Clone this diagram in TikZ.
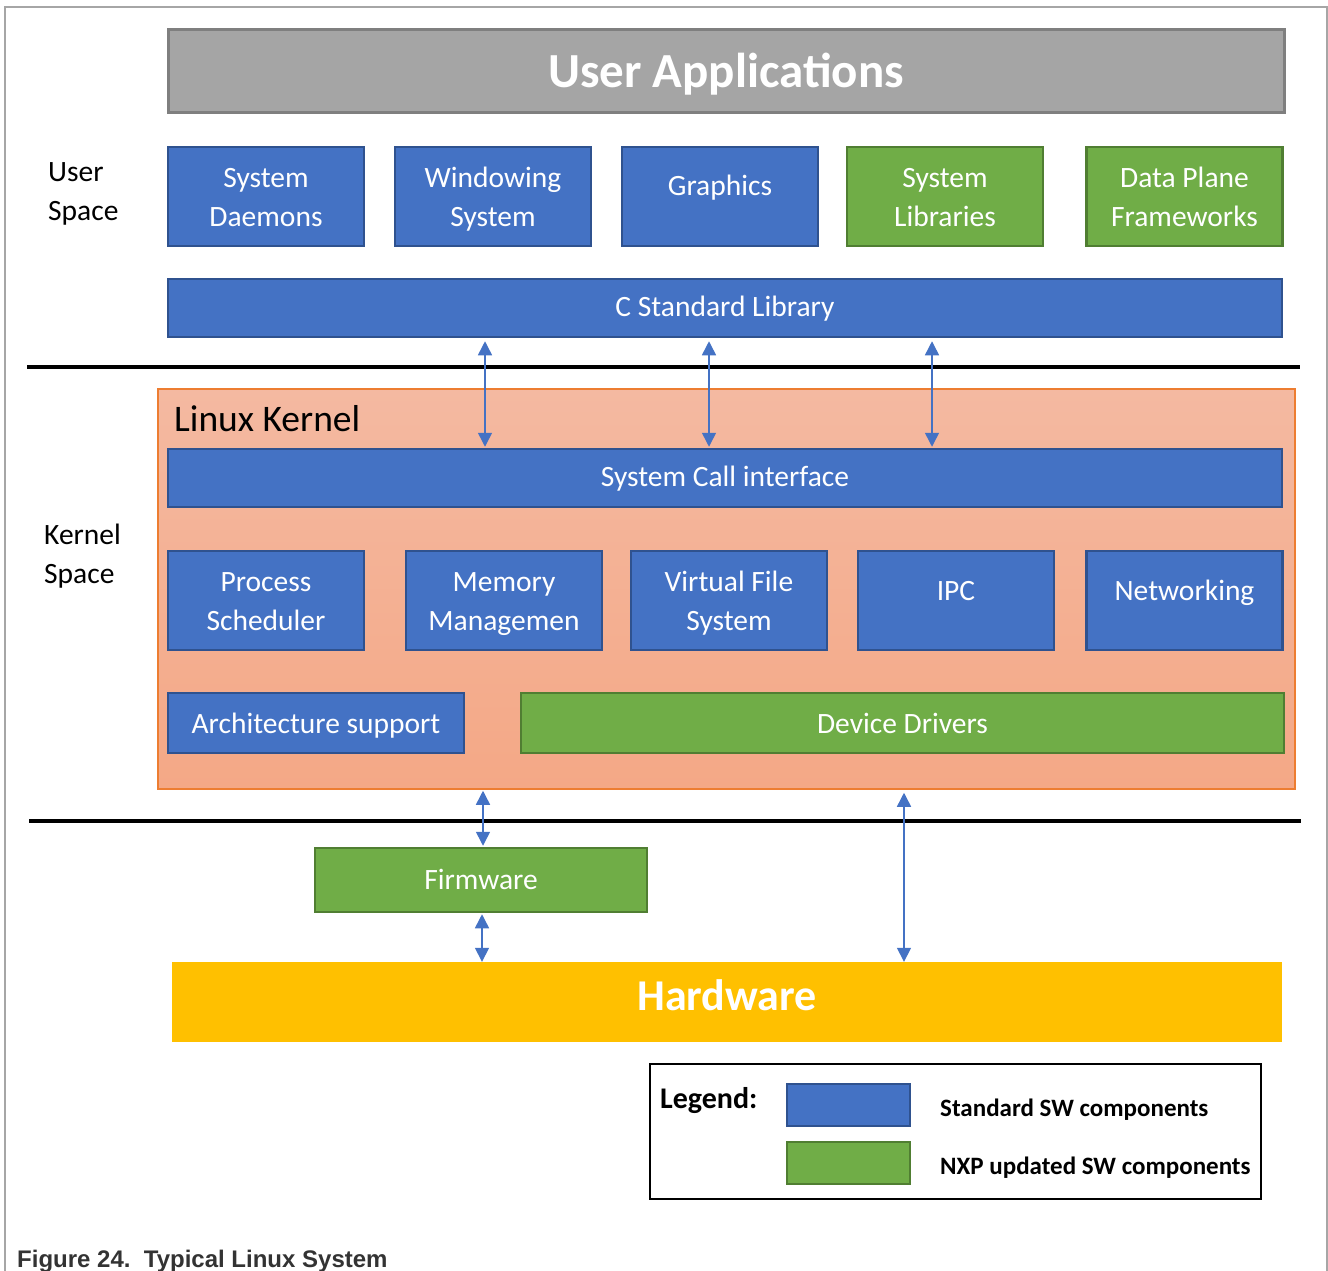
\documentclass[tikz,border=0pt]{standalone}
\usepackage{fontspec}
\setmainfont{Carlito}
\newfontfamily\captionfont{Liberation Sans}
\usetikzlibrary{arrows.meta}
\definecolor{stdblue}{HTML}{4472C4}
\definecolor{stdblueline}{HTML}{2F528F}
\definecolor{nxpgreen}{HTML}{70AD47}
\definecolor{nxpgreenline}{HTML}{507E32}
\definecolor{appgray}{HTML}{A5A5A5}
\definecolor{appgrayline}{HTML}{7F7F7F}
\definecolor{hwyellow}{HTML}{FFC000}
\definecolor{kerneltop}{HTML}{F4B9A1}
\definecolor{kernelbot}{HTML}{F4A886}
\definecolor{kernelline}{HTML}{ED7D31}
\definecolor{framegray}{HTML}{A6A6A6}
% struts for the two-line boxes
\newcommand{\upstrut}{\rule{0pt}{28.4pt}}
\newcommand{\downstrut}{\rule[-7pt]{0pt}{7pt}}
\tikzset{textpos/.style 2 args={text height=#1, text depth=#2}}
\tikzstyle{stdsw} = [rectangle, draw=stdblueline, line width=2.5pt, fill=stdblue, text=white, align=center, inner sep=0pt, font=\fontsize{29.5}{39}\selectfont]
\tikzstyle{nxpsw} = [stdsw, draw=nxpgreenline, fill=nxpgreen]
\tikzstyle{tall} = [minimum width=196pt, minimum height=99pt]
\tikzstyle{bar} = [minimum width=1114pt, minimum height=58pt, textpos={17.4pt}{0pt}]
\tikzstyle{side} = [anchor=west, align=left, inner sep=0pt, font=\fontsize{29.5}{39}\selectfont]
\tikzstyle{arrow} = [draw=stdblue, line width=1.5pt, {Triangle[length=14pt,width=14pt]}-{Triangle[length=14pt,width=14pt]}]
\tikzstyle{sep} = [black, line width=4pt]
\begin{document}
\begin{tikzpicture}[x=1pt, y=-1pt]
	\useasboundingbox (0,0) rectangle (1328,1270);
	
		% Frame round the figure
		\draw [framegray, line width=1.5pt] (5,1285) -- (5,7) -- (1327,7) -- (1327,1285);
		
		% User space
		\node (apps) [rectangle, draw=appgrayline, line width=3pt, fill=appgray, text=white, minimum width=1116pt, minimum height=83pt, textpos={34pt}{0pt}, font=\fontsize{49}{52}\selectfont\bfseries] at (726,70.5) {User Applications};
		\node (userlbl) [side] at (48,193.5) {User\\Space};
		\node (sysd) [stdsw, tall] at (266,196.5) {\upstrut System\\Daemons\downstrut};
		\node (winsys) [stdsw, tall] at (493,196.5) {\upstrut Windowing\\System\downstrut};
		\node (graphics) [stdsw, tall, textpos={0pt}{3pt}] at (720,196.5) {Graphics};
		\node (syslib) [nxpsw, tall] at (945,196.5) {\upstrut System\\Libraries\downstrut};
		\node (dataplane) [nxpsw, tall] at (1184.5,196.5) {\upstrut Data Plane\\Frameworks\downstrut};
		\node (clib) [stdsw, bar] at (725,308) {C Standard Library};
		
		\draw [sep] (27,367) -- (1300,367);
		
		% Kernel space
		\node (kernel) [rectangle, draw=kernelline, line width=1.5pt, top color=kerneltop, bottom color=kernelbot, minimum width=1137pt, minimum height=400pt] at (726.5,589) {};
		\node (kernellbl) [anchor=west, inner sep=0pt, font=\fontsize{37.5}{40}\selectfont] at (174,419) {Linux Kernel};
		\node (spacelbl) [side] at (44,556.5) {Kernel\\Space};
		\node (syscall) [stdsw, bar] at (725,478) {System Call interface};
		\node (sched) [stdsw, tall] at (266,600.5) {\upstrut Process\\Scheduler\downstrut};
		\node (mem) [stdsw, tall] at (504,600.5) {\upstrut Memory\\Managemen\downstrut};
		\node (vfs) [stdsw, tall] at (729,600.5) {\upstrut Virtual File\\System\downstrut};
		\node (ipc) [stdsw, tall, textpos={0pt}{1pt}] at (956,600.5) {IPC};
		\node (net) [stdsw, tall, textpos={0pt}{1pt}] at (1184.5,600.5) {Networking};
		\node (arch) [stdsw, minimum width=296pt, minimum height=60pt, textpos={20.6pt}{0pt}] at (316,723) {Architecture support};
		\node (drivers) [nxpsw, minimum width=763pt, minimum height=60pt, textpos={20.6pt}{0pt}] at (902.5,723) {Device Drivers};
		
		\draw [sep] (29,821) -- (1301,821);
		
		% Hardware side
		\node (firmware) [nxpsw, minimum width=332pt, minimum height=64pt, textpos={19.5pt}{0pt}] at (481,880) {Firmware};
		\node (hw) [rectangle, fill=hwyellow, text=white, minimum width=1110pt, minimum height=80pt, textpos={17pt}{0pt}, font=\fontsize{44}{48}\selectfont\bfseries] at (727,1002) {Hardware};
		
		%Draw the arrows
		\draw [arrow, shorten <=3pt, shorten >=1pt] (clib.south -| 485,0) -- (syscall.north -| 485,0);
		\draw [arrow, shorten <=3pt, shorten >=1pt] (clib.south -| 709,0) -- (syscall.north -| 709,0);
		\draw [arrow, shorten <=3pt, shorten >=1pt] (clib.south -| 932,0) -- (syscall.north -| 932,0);
		\draw [arrow, shorten <=1pt, shorten >=1pt] (kernel.south -| 483,0) -- (firmware.north -| 483,0);
		\draw [arrow, shorten <=3pt] (kernel.south -| 904,0) -- (hw.north -| 904,0);
		\draw [arrow, shorten <=1pt] (firmware.south -| 482,0) -- (hw.north -| 482,0);
		
		% Legend
		\node (legend) [rectangle, draw=black, line width=1.2pt, minimum width=611pt, minimum height=135pt] at (955.5,1131.5) {};
		\node (legendlbl) [anchor=west, inner sep=0pt, font=\fontsize{30}{32}\selectfont\bfseries] at (660,1100) {Legend:};
		\node (stdkey) [stdsw, minimum width=123pt, minimum height=42pt] at (848.5,1105) {};
		\node (nxpkey) [nxpsw, minimum width=123pt, minimum height=42pt] at (848.5,1163) {};
		\node (stdtxt) [anchor=west, inner sep=0pt, font=\fontsize{25}{28}\selectfont\bfseries] at (940,1110) {Standard SW components};
		\node (nxptxt) [anchor=west, inner sep=0pt, font=\fontsize{25}{28}\selectfont\bfseries] at (940,1168) {NXP updated SW components};
		
		% Caption
		\node (caption) [anchor=base west, inner sep=0pt, text=black!80, font=\captionfont\bfseries\fontsize{24}{28}\selectfont] at (17,1267) {Figure 24.\ \ Typical Linux System};
	
	\end{tikzpicture}
\end{document}
